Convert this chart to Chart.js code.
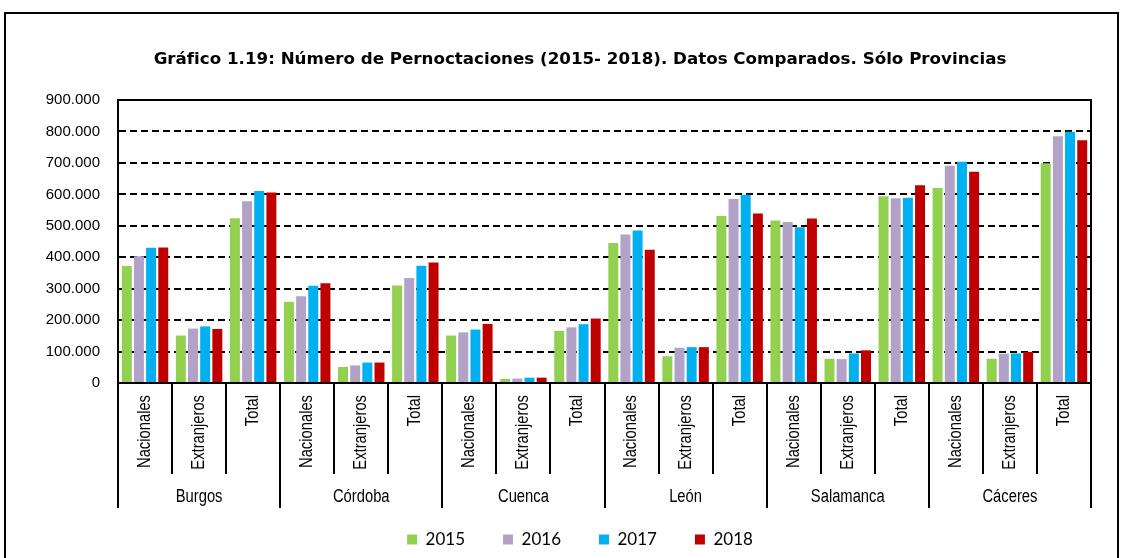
<!DOCTYPE html>
<html lang="es">
<head>
<meta charset="utf-8">
<title>Número de Pernoctaciones</title>
<script src="https://cdn.jsdelivr.net/npm/chart.js@4.4.1/dist/chart.umd.min.js"></script>
<style>
    html, body { margin: 0; padding: 0; background: #fff; }
    #chart-wrap { width: 1123px; height: 558px; }
</style>
</head>
<body>
<div id="chart-wrap">
    <canvas id="pernoctaciones-chart" width="1123" height="558"></canvas>
</div>
<script>
// Chart data
const provinces = ['Burgos', 'Córdoba', 'Cuenca', 'León', 'Salamanca', 'Cáceres'];
const types = ['Nacionales', 'Extranjeros', 'Total'];
const years = ['2015', '2016', '2017', '2018'];
const yearColors = ['#92D050', '#B3A2C7', '#00B0F0', '#C00000'];

const values2015 = [372000, 151000, 524000, 258000, 51000, 310000, 151000, 13000, 166000, 445000, 85000, 531000, 517000, 77000, 594000, 620000, 77000, 699000];
const values2016 = [403000, 173000, 578000, 276000, 56000, 334000, 161000, 14000, 177000, 472000, 112000, 585000, 512000, 76000, 588000, 691000, 93000, 785000];
const values2017 = [430000, 180000, 611000, 309000, 65000, 373000, 170000, 17000, 187000, 485000, 114000, 599000, 495000, 94000, 589000, 704000, 94000, 799000];
const values2018 = [431000, 172000, 606000, 317000, 65000, 383000, 188000, 17000, 205000, 424000, 114000, 539000, 523000, 104000, 629000, 672000, 99000, 772000];

const yMin = 0;
const yMax = 900000;
const yStep = 100000;

const labelFont = "'Liberation Sans', Arial, sans-serif";
const narrowScale = 0.82; // squeeze Liberation Sans to look like Arial Narrow

// One label per bar group: type inside province
const labels = [];
provinces.forEach(p => types.forEach(t => labels.push(t)));

const seriesValues = [values2015, values2016, values2017, values2018];

// Format 100000 -> 100.000
function formatThousands(v) {
    return String(v).replace(/\B(?=(\d{3})+(?!\d))/g, '.');
}

// Frame, plot border and two-level category axis
const axisPlugin = {
    id: 'axisLabels',
    beforeDraw(chart) {
        const ctx = chart.ctx;
        ctx.save();
        ctx.strokeStyle = '#000';
        ctx.lineWidth = 2;
        ctx.strokeRect(5, 13, 1113, 600);
        ctx.restore();
    },
    afterDraw(chart) {
        const ctx = chart.ctx;
        const area = chart.chartArea;
        const xScale = chart.scales.x;

        ctx.save();
        ctx.strokeStyle = '#000';
        ctx.lineWidth = 2;

        // Top and right plot border
        ctx.beginPath();
        ctx.moveTo(area.left, area.top);
        ctx.lineTo(area.right, area.top);
        ctx.lineTo(area.right, area.bottom);
        ctx.stroke();

        // Separators below the axis
        for (let i = 0; i <= labels.length; i++) {
            const x = Math.round(xScale.getPixelForValue(i - 0.5));
            const isGroupEdge = i % types.length === 0;
            ctx.beginPath();
            ctx.moveTo(x, area.bottom);
            ctx.lineTo(x, isGroupEdge ? area.bottom + 125 : area.bottom + 91);
            ctx.stroke();
        }

        // Rotated type labels
        ctx.fillStyle = '#000';
        ctx.font = '18px ' + labelFont;
        ctx.textAlign = 'right';
        ctx.textBaseline = 'middle';
        labels.forEach((label, i) => {
            const x = xScale.getPixelForValue(i);
            ctx.save();
            ctx.translate(x, area.bottom + 12);
            ctx.rotate(-Math.PI / 2);
            ctx.scale(narrowScale, 1);
            ctx.fillText(label, 0, 0);
            ctx.restore();
        });

        // Province labels
        ctx.textAlign = 'center';
        provinces.forEach((p, k) => {
            const x = xScale.getPixelForValue(k * types.length + 1);
            ctx.save();
            ctx.translate(x, area.bottom + 114);
            ctx.scale(narrowScale, 1);
            ctx.fillText(p, 0, 0);
            ctx.restore();
        });

        ctx.restore();
    }
};

const canvas = document.getElementById('pernoctaciones-chart');
const ctx = canvas.getContext('2d');

new Chart(ctx, {
    type: 'bar',
    data: {
        labels: labels,
        datasets: years.map((year, i) => ({
            label: year,
            data: seriesValues[i],
            backgroundColor: yearColors[i],
            borderWidth: 0,
            categoryPercentage: 0.9,
            barPercentage: 0.82
        }))
    },
    options: {
        responsive: false,
        animation: false,
        devicePixelRatio: 1,
        layout: {
            padding: { top: 0, left: 45, right: 8, bottom: 0 }
        },
        plugins: {
            title: {
                display: true,
                text: 'Gráfico 1.19: Número de Pernoctaciones (2015- 2018). Datos Comparados. Sólo Provincias',
                color: '#000',
                font: { family: "'DejaVu Sans', sans-serif", size: 16.7, weight: 'bold' },
                padding: { top: 50, bottom: 30 }
            },
            legend: {
                position: 'bottom',
                labels: {
                    color: '#000',
                    font: { family: "Lato, 'Open Sans', sans-serif", size: 17 },
                    boxWidth: 10,
                    boxHeight: 10,
                    padding: 38
                }
            },
            tooltip: { enabled: false }
        },
        scales: {
            x: {
                grid: { display: false },
                border: { display: true, color: '#000', width: 2 },
                ticks: { display: false },
                afterFit(scale) {
                    scale.height = 110;
                }
            },
            y: {
                min: yMin,
                max: yMax,
                ticks: {
                    stepSize: yStep,
                    color: '#000',
                    padding: 18,
                    font: { family: labelFont, size: 15 },
                    callback: value => formatThousands(value)
                },
                grid: {
                    color: '#000',
                    lineWidth: 2,
                    drawTicks: false
                },
                border: { display: true, color: '#000', width: 2, dash: [7, 4] },
                afterFit(scale) {
                    scale.width = 73;
                }
            },
            // empty spacer on the right so title and legend sit where they do in the original
            spacer: {
                type: 'linear',
                position: 'right',
                display: true,
                grid: { display: false },
                border: { display: false },
                ticks: { display: false },
                afterFit(scale) {
                    scale.width = 24;
                }
            }
        }
    },
    plugins: [axisPlugin]
});
</script>
</body>
</html>
